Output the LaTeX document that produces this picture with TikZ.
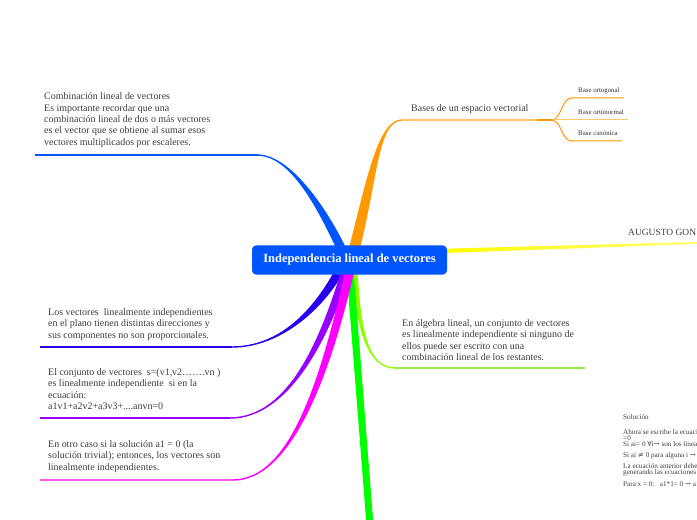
\documentclass[tikz,border=0pt]{standalone}
\usepackage{fontspec}
\setmainfont{Liberation Serif}
\newfontfamily\symfont{DejaVu Serif}
\usetikzlibrary{calc}
\definecolor{cNode}{RGB}{0,85,255}
\definecolor{cBlue}{RGB}{0,85,255}
\definecolor{cOrange}{RGB}{255,153,0}
\definecolor{cOrangeL}{RGB}{255,200,110}
\definecolor{cYellow}{RGB}{255,255,0}
\definecolor{cChart}{RGB}{140,255,0}
\definecolor{cChartL}{RGB}{150,235,60}
\definecolor{cGreen}{RGB}{0,255,0}
\definecolor{cViolet}{RGB}{40,0,240}
\definecolor{cPurple}{RGB}{150,0,255}
\definecolor{cMagenta}{RGB}{255,0,255}
\definecolor{cMagentaL}{RGB}{255,90,235}
\definecolor{textgray}{RGB}{60,60,60}
% tapered branch: #1 colour, #2 root, #3 c1, #4 c2, #5 end, #6 half width at root, #7 signed half width at end
\newcommand{\taperbranch}[7]{%
  \fill[#1] ($(#2)+(-#6,0)$) .. controls ($(#3)+(-#6,0)$) and ($(#4)+(0,#7)$) .. ($(#5)+(0,#7)$)
    -- ($(#5)+(0,-#7)$) .. controls ($(#4)+(0,-#7)$) and ($(#3)+(#6,0)$) .. ($(#2)+(#6,0)$) -- cycle;}
\tikzset{
  txt/.style={anchor=north west, inner sep=0pt, align=left, text=textgray,
    font=\fontsize{10}{11.3}\selectfont},
  smalltxt/.style={anchor=base west, inner sep=0pt, text=textgray!80!black,
    font=\fontsize{6.9}{7}\selectfont},
  tinytxt/.style={anchor=base west, inner sep=0pt, text=textgray,
    font=\fontsize{7.2}{7}\selectfont},
  uline/.style={line width=1.3bp},
  subline/.style={line width=1bp},
  centralbox/.style={fill=cNode, rounded corners=4bp, minimum width=195bp, minimum height=29bp,
    inner sep=0pt, text=white, font=\bfseries\fontsize{12.5}{14}\selectfont}
}
\begin{document}
\begin{tikzpicture}[x=1bp,y=-1bp]
\useasboundingbox (0,0) rectangle (697,520);

% coordinates
\coordinate (rA) at (342,250);
\coordinate (cA1) at (324,212);
\coordinate (cA2) at (292,156);
\coordinate (eA) at (258,155);
\coordinate (lA) at (35,155);

\coordinate (rB) at (354,250);
\coordinate (cB1) at (372,180);
\coordinate (cB2) at (378,120);
\coordinate (eB) at (402,120);
\coordinate (jB) at (552,120);
\coordinate (dB) at (537,120);

\coordinate (eOg) at (572,98);
\coordinate (lOg) at (624,98);
\coordinate (lOn) at (628,120);
\coordinate (eCa) at (572,141);
\coordinate (lCa) at (622,141);

\coordinate (rD) at (355,270);
\coordinate (cD1) at (358,330);
\coordinate (cD2) at (368,368);
\coordinate (eD) at (395,368);
\coordinate (lD) at (585,368);

\coordinate (rE) at (350,270);
\coordinate (eE) at (370,525);

\coordinate (rF) at (340,270);
\coordinate (cF1) at (318,310);
\coordinate (cF2) at (280,347);
\coordinate (eF) at (232,347);
\coordinate (lF) at (40,347);

\coordinate (rG) at (346,270);
\coordinate (cG1) at (326,335);
\coordinate (cG2) at (290,418);
\coordinate (eG) at (230,418);
\coordinate (lG) at (40,418);

\coordinate (rH) at (350,270);
\coordinate (cH1) at (325,380);
\coordinate (cH2) at (290,480);
\coordinate (eH) at (233,480);
\coordinate (lH) at (40,480);

% branches
\taperbranch{cBlue}{rA}{cA1}{cA2}{eA}{5}{0.7}
\draw[cBlue, uline] (eA) -- (lA);

\taperbranch{cOrange}{rB}{cB1}{cB2}{eB}{5.5}{-0.7}
\draw[cOrangeL, uline] (eB) -- (jB);
\draw[cOrange, line width=1.6bp] (dB) -- (jB);
\draw[cOrange, subline] (jB) .. controls (562,119) and (561,98) .. (eOg) -- (lOg);
\draw[cOrangeL, subline] (jB) -- (lOn);
\draw[cOrange, subline] (jB) .. controls (562,121) and (561,141) .. (eCa) -- (lCa);

\coordinate (rC) at (440,251);
\coordinate (eC) at (697,243);
\shade[left color=cYellow, right color=cYellow!55!white]
  ($(rC)+(0,-2.2)$) -- ($(eC)+(0,-1)$) -- ($(eC)+(0,1)$) -- ($(rC)+(0,2.2)$) -- cycle;

\taperbranch{cChart}{rD}{cD1}{cD2}{eD}{2.6}{0.7}
\draw[cChartL, uline] (eD) -- (lD);

\draw[cGreen, line width=7bp] (rE) -- (eE);

\taperbranch{cViolet}{rF}{cF1}{cF2}{eF}{5}{-0.7}
\draw[cViolet, uline] (eF) -- (lF);

\taperbranch{cPurple}{rG}{cG1}{cG2}{eG}{4.5}{-0.7}
\draw[cPurple, uline] (eG) -- (lG);

\taperbranch{cMagenta}{rH}{cH1}{cH2}{eH}{4.5}{-0.7}
\draw[cMagentaL, uline] (eH) -- (lH);

% central node
\node[centralbox] (center) at (349.5,260) {Independencia lineal de vectores};

% texts
\node[txt, font=\fontsize{10}{11.5}\selectfont] (tA) at (44,92.5) {Combinación lineal de vectores\\Es importante recordar que una\\combinación lineal de dos o más vectores\\es el vector que se obtiene al sumar esos\\vectores multiplicados por escaleres.};
\node[txt, anchor=base west] (tB) at (411,112) {Bases de un espacio vectorial};
\node[smalltxt] (tOg) at (578,93) {Base ortogonal};
\node[smalltxt] (tOn) at (578,115) {Base ortonormal};
\node[smalltxt] (tCa) at (578,136) {Base canónica};
\node[txt, anchor=base west, font=\fontsize{9.5}{11}\selectfont] (tC) at (628,236) {AUGUSTO GON};
\node[txt] (tD) at (402,319.5) {En álgebra lineal, un conjunto de vectores\\es linealmente independiente si ninguno de\\ellos puede ser escrito con una\\combinación lineal de los restantes.};
\node[txt] (tF) at (48,308.5) {Los vectores\ \ linealmente independientes\\en el plano tienen distintas direcciones y\\sus componentes no son proporcionales.};
\node[txt] (tG) at (48,368.5) {El conjunto de vectores\ \ s=(v1,v2…….vn )\\es linealmente independiente\ \ si en la\\ecuación:\\a1v1+a2v2+a3v3+....anvn=0};
\node[txt] (tH) at (48,440.5) {En otro caso si la solución a1 = 0 (la\\solución trivial); entonces, los vectores son\\linealmente independientes.};

% solution block (clipped at the right edge)
\node[tinytxt] (s1) at (623,419) {Solución};
\node[tinytxt] (s2) at (623,434) {Ahora se escribe la ecuación};
\node[tinytxt] (s3) at (623,440) {=0};
\node[tinytxt] (s4) at (623,446) {Si ai= 0 {\symfont ∀}i{\symfont →} son los lineal};
\node[tinytxt] (s5) at (623,457) {Si ai {\symfont ≠} 0 para alguna i {\symfont →} (};
\node[tinytxt] (s6) at (623,468) {La ecuación anterior debe};
\node[tinytxt] (s7) at (623,474) {generando las ecuaciones};
\node[tinytxt] (s8) at (623,486) {Para x = 0:\ \ \ a1*1= 0 {\symfont →} a1};
\end{tikzpicture}
\end{document}
